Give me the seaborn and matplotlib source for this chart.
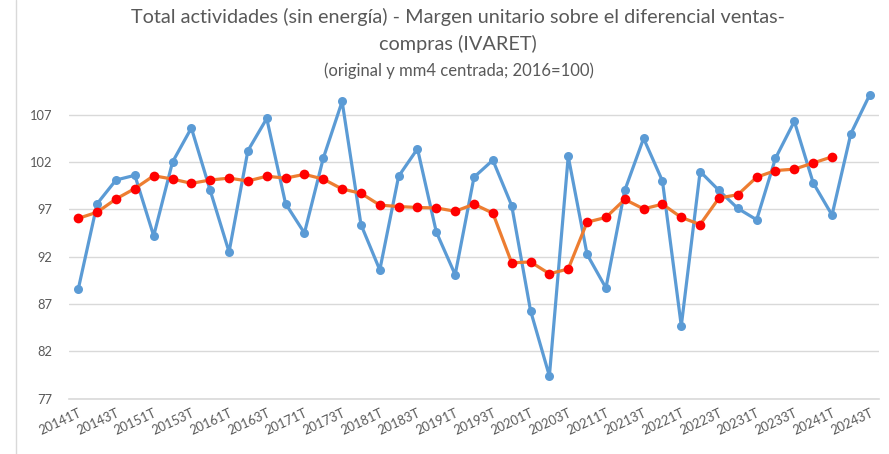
import matplotlib
matplotlib.use("Agg")
import matplotlib.pyplot as plt
from matplotlib.lines import Line2D
import numpy as np
import pandas as pd
import seaborn as sns

# ---- data ----
quarters = [f"{y}{q}T" for y in range(2014, 2025) for q in (1, 2, 3, 4)][:43]
original = [88.6, 97.6, 100.1, 100.6, 94.2, 102.0, 105.6, 99.0, 92.5, 103.2,
            106.6, 97.6, 94.5, 102.4, 108.4, 95.4, 90.6, 100.5, 103.4, 94.6,
            90.1, 100.4, 102.2, 97.4, 86.3, 79.4, 102.6, 92.25, 88.7, 99.0,
            104.5, 100.0, 84.7, 101.0, 99.0, 97.1, 95.9, 102.4, 106.3, 99.8,
            96.4, 105.0, 109.1]
mm4 = [96.05, 96.7, 98.1, 99.2, 100.55, 100.2, 99.75, 100.1, 100.3, 100.0,
       100.5, 100.3, 100.7, 100.2, 99.15, 98.7, 97.45, 97.3, 97.2, 97.15,
       96.8, 97.55, 96.6, 91.35, 91.45, 90.2, 90.7, 95.65, 96.15, 98.05,
       97.05, 97.55, 96.15, 95.4, 98.2, 98.55, 100.4, 101.1, 101.25, 101.9,
       102.55, np.nan, np.nan]
yticks = [77, 82, 87, 92, 97, 102, 107]

title_l1 = "Total actividades (sin energía) - Margen unitario sobre el diferencial ventas-"
title_l2 = "compras (IVARET)"
subtitle = "(original y mm4 centrada; 2016=100)"

df = pd.DataFrame({"pos": np.arange(len(quarters)), "quarter": quarters,
                   "original": original, "mm4": mm4})

sns.set_style("white")
plt.rcParams["font.family"] = ["Lato", "DejaVu Sans"]

grey_txt = "#595959"
grid_c = "#D9D9D9"

fig = plt.figure(figsize=(8.89, 4.54), dpi=100)
ax = fig.add_axes([0.0775, 0.1218, 0.9889 - 0.0775, 0.8099 - 0.1218])

sns.lineplot(data=df, x="pos", y="original", ax=ax, color="#5B9BD5",
             linewidth=2.3, marker="o", markersize=6.5, markeredgewidth=0,
             markerfacecolor="#5B9BD5", clip_on=False, zorder=3)
d2 = df.dropna(subset=["mm4"])
sns.lineplot(data=d2, x="pos", y="mm4", ax=ax, color="#ED7D31",
             linewidth=2.3, marker="o", markersize=7, markeredgewidth=0,
             markerfacecolor="#FF0000", clip_on=False, zorder=4)

ax.set_xlim(-0.5, len(quarters) - 0.5)
ax.set_ylim(77, 110)
ax.set_yticks(yticks)
ax.set_yticklabels([str(v) for v in yticks])
ax.set_xticks(df["pos"][::2])
ax.set_xticklabels(df["quarter"][::2], rotation=25, ha="right",
                   rotation_mode="anchor")
ax.tick_params(axis="both", length=0, colors=grey_txt, labelsize=9.3)
ax.tick_params(axis="y", pad=12)
ax.tick_params(axis="x", pad=6)
ax.set_xlabel("")
ax.set_ylabel("")
for s in ["top", "right", "left"]:
    ax.spines[s].set_visible(False)
ax.spines["bottom"].set_color(grid_c)
ax.spines["bottom"].set_linewidth(1.2)
ax.yaxis.grid(True, color=grid_c, linewidth=1)
ax.set_axisbelow(True)

fig.text(458 / 889, 1 - 17 / 454, title_l1, ha="center", va="center",
         fontsize=14.3, color=grey_txt)
fig.text(458 / 889, 1 - 44 / 454, title_l2, ha="center", va="center",
         fontsize=14.3, color=grey_txt)
fig.text(459 / 889, 1 - 71 / 454, subtitle, ha="center", va="center",
         fontsize=12, color=grey_txt)

fig.add_artist(Line2D([16 / 889, 16 / 889], [0, 1], color=grid_c,
                      linewidth=1, transform=fig.transFigure))

fig.savefig("out.png", dpi=100)
